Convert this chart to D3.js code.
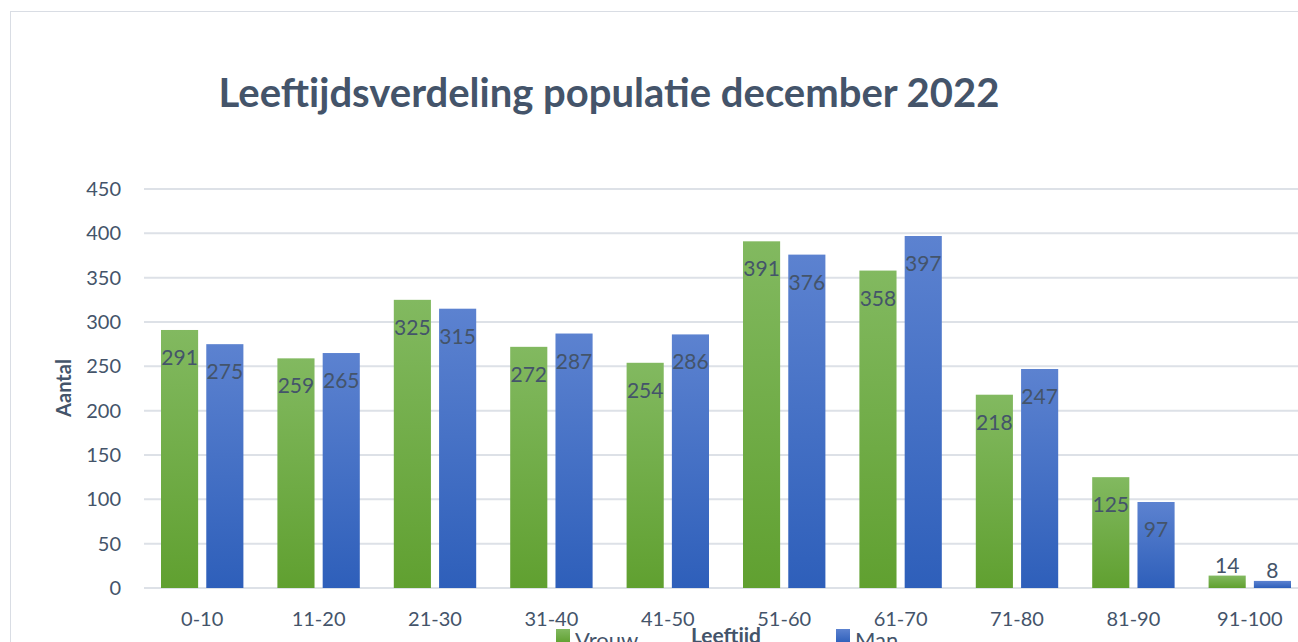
<!DOCTYPE html>
<html>
<head>
<meta charset="utf-8">
<script src="https://cdn.jsdelivr.net/npm/d3@7"></script>
<style>
  body { margin: 0; background: #fff; }
  svg { display: block; font-family: Lato, "Open Sans", sans-serif; }
</style>
</head>
<body>
<div class="chart"></div>
<script>
const categories = ["0-10", "11-20", "21-30", "31-40", "41-50", "51-60", "61-70", "71-80", "81-90", "91-100"];
const vrouw = [291, 259, 325, 272, 254, 391, 358, 218, 125, 14];
const man = [275, 265, 315, 287, 286, 376, 397, 247, 97, 8];
const seriesNames = ["Vrouw", "Man"];
const yTicks = [0, 50, 100, 150, 200, 250, 300, 350, 400, 450];

const textColor = "#44546a";
const W = 1298, H = 642;
const margin = {left: 144, top: 189, bottom: 54};
const plotW = 1164; // plot runs past the right edge like the original
const plotH = H - margin.top - margin.bottom;

var svg = d3.select(".chart").append("svg")
    .attr("width", W)
    .attr("height", H);

// outer chart frame
svg.append("rect")
    .attr("x", 10.5).attr("y", 11.5)
    .attr("width", W + 20).attr("height", H)
    .attr("fill", "none")
    .attr("stroke", "#d9dde4");

var defs = svg.append("defs");
function addGrad(id, top, bottom) {
    var g = defs.append("linearGradient").attr("id", id)
        .attr("x1", 0).attr("y1", 0).attr("x2", 0).attr("y2", 1);
    g.append("stop").attr("offset", "0%").attr("stop-color", top);
    g.append("stop").attr("offset", "100%").attr("stop-color", bottom);
}
addGrad("gVrouw", "#82b960", "#60a030");
addGrad("gMan", "#5c82d0", "#2e5fba");
const fills = ["url(#gVrouw)", "url(#gMan)"];

var x0 = d3.scaleBand()
    .domain(categories)
    .range([margin.left, margin.left + plotW]);
var x1 = d3.scaleBand() // position of the two bars inside a group
    .domain(seriesNames)
    .range([17, x0.bandwidth() - 17])
    .paddingInner(0.18);
var y = d3.scaleLinear()
    .domain([0, 450])
    .range([margin.top + plotH, margin.top]);

// gridlines
svg.append("g")
    .selectAll("line")
    .data(yTicks)
    .enter()
    .append("line")
    .attr("x1", margin.left)
    .attr("x2", W)
    .attr("y1", d => y(d))
    .attr("y2", d => y(d))
    .attr("stroke", "#dde1e7")
    .attr("stroke-width", 2);

// y tick labels
svg.append("g")
    .selectAll("text")
    .data(yTicks)
    .enter()
    .append("text")
    .attr("x", 121)
    .attr("y", d => y(d) + 7)
    .attr("text-anchor", "end")
    .attr("font-size", 20)
    .attr("fill", textColor)
    .text(d => d);

// bars
var rows = categories.map((c, i) => ({cat: c, vals: [vrouw[i], man[i]]}));
var groups = svg.append("g")
    .selectAll("g")
    .data(rows)
    .enter()
    .append("g")
    .attr("transform", d => `translate(${x0(d.cat)},0)`);

groups.selectAll("rect")
    .data(d => d.vals.map((v, k) => ({name: seriesNames[k], v: v, k: k})))
    .enter()
    .append("rect")
    .attr("x", d => x1(d.name))
    .attr("y", d => y(d.v))
    .attr("width", x1.bandwidth())
    .attr("height", d => y(0) - y(d.v))
    .attr("fill", d => fills[d.k]);

// data labels (inside end, above when the bar is too short)
groups.selectAll("text")
    .data(d => d.vals.map((v, k) => ({name: seriesNames[k], v: v, k: k})))
    .enter()
    .append("text")
    .attr("x", d => x1(d.name) + x1.bandwidth() / 2)
    .attr("y", d => (y(0) - y(d.v) > 45) ? y(d.v) + 35 : y(d.v) - 3)
    .attr("text-anchor", "middle")
    .attr("font-size", 21)
    .attr("fill", textColor)
    .text(d => d.v);

// x tick labels
svg.append("g")
    .selectAll("text")
    .data(categories)
    .enter()
    .append("text")
    .attr("x", d => x0(d) + x0.bandwidth() / 2)
    .attr("y", 626)
    .attr("text-anchor", "middle")
    .attr("font-size", 20)
    .attr("fill", textColor)
    .text(d => d);

// title
svg.append("text")
    .attr("x", 609)
    .attr("y", 107)
    .attr("text-anchor", "middle")
    .attr("font-size", 40)
    .attr("font-weight", 700)
    .attr("fill", textColor)
    .text("Leeftijdsverdeling populatie december 2022");

// axis titles
svg.append("text")
    .attr("transform", "translate(71,388) rotate(-90)")
    .attr("text-anchor", "middle")
    .attr("font-size", 20)
    .attr("font-weight", 700)
    .attr("fill", textColor)
    .text("Aantal");

svg.append("text")
    .attr("x", 726)
    .attr("y", 643)
    .attr("text-anchor", "middle")
    .attr("font-size", 21)
    .attr("font-weight", 700)
    .attr("fill", textColor)
    .text("Leeftijd");

// legend
var legendX = [556, 836];
var legend = svg.append("g")
    .selectAll("g")
    .data(seriesNames)
    .enter()
    .append("g")
    .attr("transform", (d, i) => `translate(${legendX[i]},629)`);
legend.append("rect")
    .attr("width", 14).attr("height", 14)
    .attr("fill", (d, i) => fills[i]);
legend.append("text")
    .attr("x", 19)
    .attr("y", 19)
    .attr("font-size", 22)
    .attr("fill", textColor)
    .text(d => d);
</script>
</body>
</html>
